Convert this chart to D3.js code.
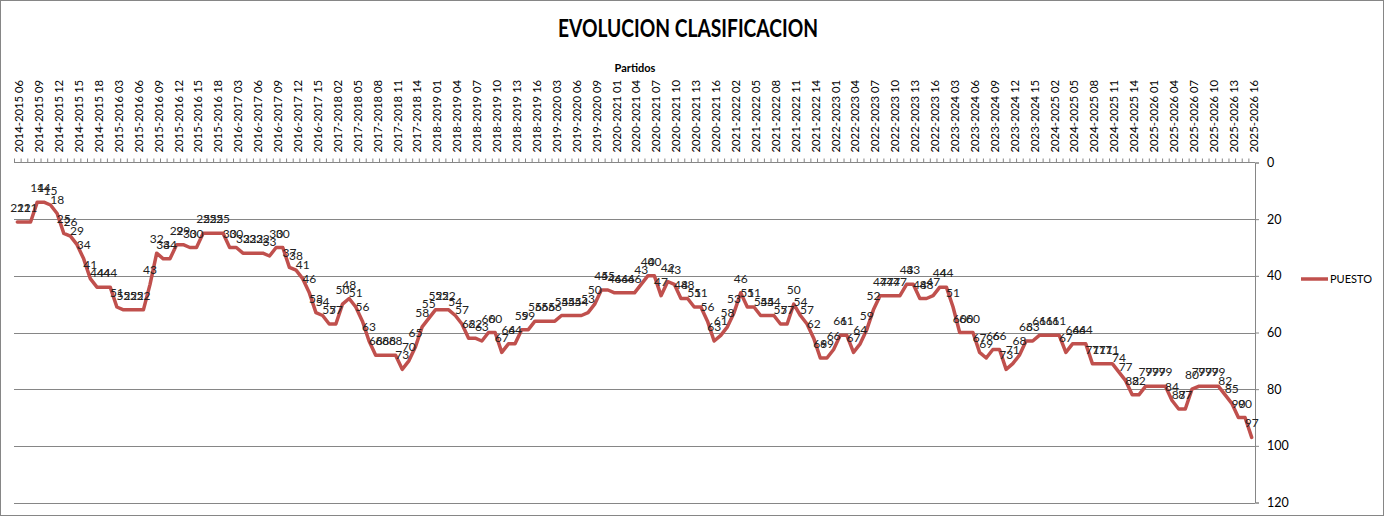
<!DOCTYPE html>
<html>
<head>
<meta charset="utf-8">
<script src="https://cdn.jsdelivr.net/npm/d3@7"></script>
<style>
  body { margin: 0; background: #fff; }
  svg { display: block; font-family: Lato, 'Open Sans', sans-serif; }
</style>
</head>
<body>
<svg id="chart" width="1388" height="518"></svg>
<script>
// Jornadas por temporada, tal como salen en la hoja
const categories = [
  '2014-2015 06', '2014-2015 07', '2014-2015 08', '2014-2015 09', '2014-2015 10', '2014-2015 11', '2014-2015 12',
  '2014-2015 13', '2014-2015 14', '2014-2015 15', '2014-2015 16', '2014-2015 17', '2014-2015 18',
  '2015-2016 01', '2015-2016 02', '2015-2016 03', '2015-2016 04', '2015-2016 05', '2015-2016 06', '2015-2016 07',
  '2015-2016 08', '2015-2016 09', '2015-2016 10', '2015-2016 11', '2015-2016 12', '2015-2016 13', '2015-2016 14',
  '2015-2016 15', '2015-2016 16', '2015-2016 17', '2015-2016 18',
  '2016-2017 01', '2016-2017 02', '2016-2017 03', '2016-2017 04', '2016-2017 05', '2016-2017 06', '2016-2017 07',
  '2016-2017 08', '2016-2017 09', '2016-2017 10', '2016-2017 11', '2016-2017 12', '2016-2017 13', '2016-2017 14',
  '2016-2017 15', '2016-2017 16',
  '2017-2018 01', '2017-2018 02', '2017-2018 03', '2017-2018 04', '2017-2018 05', '2017-2018 06', '2017-2018 07',
  '2017-2018 08', '2017-2018 09', '2017-2018 10', '2017-2018 11', '2017-2018 12', '2017-2018 13', '2017-2018 14',
  '2017-2018 15', '2017-2018 16',
  '2018-2019 01', '2018-2019 02', '2018-2019 03', '2018-2019 04', '2018-2019 05', '2018-2019 06', '2018-2019 07',
  '2018-2019 08', '2018-2019 09', '2018-2019 10', '2018-2019 11', '2018-2019 12', '2018-2019 13', '2018-2019 14',
  '2018-2019 15', '2018-2019 16',
  '2019-2020 01', '2019-2020 02', '2019-2020 03', '2019-2020 04', '2019-2020 05', '2019-2020 06', '2019-2020 07',
  '2019-2020 08', '2019-2020 09', '2019-2020 10', '2019-2020 11',
  '2020-2021 01', '2020-2021 02', '2020-2021 03', '2020-2021 04', '2020-2021 05', '2020-2021 06', '2020-2021 07',
  '2020-2021 08', '2020-2021 09', '2020-2021 10', '2020-2021 11', '2020-2021 12', '2020-2021 13', '2020-2021 14',
  '2020-2021 15', '2020-2021 16', '2020-2021 17',
  '2021-2022 01', '2021-2022 02', '2021-2022 03', '2021-2022 04', '2021-2022 05', '2021-2022 06', '2021-2022 07',
  '2021-2022 08', '2021-2022 09', '2021-2022 10', '2021-2022 11', '2021-2022 12', '2021-2022 13', '2021-2022 14',
  '2021-2022 15', '2021-2022 16',
  '2022-2023 01', '2022-2023 02', '2022-2023 03', '2022-2023 04', '2022-2023 05', '2022-2023 06', '2022-2023 07',
  '2022-2023 08', '2022-2023 09', '2022-2023 10', '2022-2023 11', '2022-2023 12', '2022-2023 13', '2022-2023 14',
  '2022-2023 15', '2022-2023 16',
  '2023-2024 01', '2023-2024 02', '2023-2024 03', '2023-2024 04', '2023-2024 05', '2023-2024 06', '2023-2024 07',
  '2023-2024 08', '2023-2024 09', '2023-2024 10', '2023-2024 11', '2023-2024 12', '2023-2024 13', '2023-2024 14',
  '2023-2024 15', '2023-2024 16',
  '2024-2025 01', '2024-2025 02', '2024-2025 03', '2024-2025 04', '2024-2025 05', '2024-2025 06', '2024-2025 07',
  '2024-2025 08', '2024-2025 09', '2024-2025 10', '2024-2025 11', '2024-2025 12', '2024-2025 13', '2024-2025 14',
  '2024-2025 15', '2024-2025 16',
  '2025-2026 01', '2025-2026 02', '2025-2026 03', '2025-2026 04', '2025-2026 05', '2025-2026 06', '2025-2026 07',
  '2025-2026 08', '2025-2026 09', '2025-2026 10', '2025-2026 11', '2025-2026 12', '2025-2026 13', '2025-2026 14',
  '2025-2026 15', '2025-2026 16',
];

// PUESTO, una cifra por jornada
const puesto = [
  21, 21, 21, 14, 14, 15, 18, 25, 26, 29, 34, 41, 44, 44, 44, 51, 52, 52, 52, 52,
  43, 32, 34, 34, 29, 29, 30, 30, 25, 25, 25, 25, 30, 30, 32, 32, 32, 32, 33, 30,
  30, 37, 38, 41, 46, 53, 54, 57, 57, 50, 48, 51, 56, 63, 68, 68, 68, 68, 73, 70,
  65, 58, 55, 52, 52, 52, 54, 57, 62, 62, 63, 60, 60, 67, 64, 64, 59, 59, 56, 56,
  56, 56, 54, 54, 54, 54, 53, 50, 45, 45, 46, 46, 46, 46, 43, 40, 40, 47, 42, 43,
  48, 48, 51, 51, 56, 63, 61, 58, 53, 46, 51, 51, 54, 54, 54, 57, 57, 50, 54, 57,
  62, 69, 69, 66, 61, 61, 67, 64, 59, 52, 47, 47, 47, 47, 43, 43, 48, 48, 47, 44,
  44, 51, 60, 60, 60, 67, 69, 66, 66, 73, 71, 68, 63, 63, 61, 61, 61, 61, 67, 64,
  64, 64, 71, 71, 71, 71, 74, 77, 82, 82, 79, 79, 79, 79, 84, 87, 87, 80, 79, 79,
  79, 79, 82, 85, 90, 90, 97,
];

const yTicks = [0, 20, 40, 60, 80, 100, 120];
const labelEvery = 3;

const RED = '#c0504d';
const GRID = '#868686';
const TEXT = '#000';

const PLOT = { left: 14, right: 1255, top: 162.5, bottom: 502.5 };

const svg = d3.select('#chart');

// marco del grafico
svg.append('rect')
  .attr('x', 0.5).attr('y', 0.5)
  .attr('width', 1383).attr('height', 515)
  .attr('fill', '#fff')
  .attr('stroke', GRID);

const xBand = d3.scaleBand()
  .domain(categories)
  .range([PLOT.left, PLOT.right]);
const cx = c => xBand(c) + xBand.bandwidth() / 2;

const y = d3.scaleLinear()
  .domain([0, 120])
  .range([PLOT.top, PLOT.bottom]);

// lineas de division
svg.append('g')
  .selectAll('line')
  .data(yTicks.filter(d => d > 0))
  .enter()
  .append('line')
  .attr('x1', PLOT.left).attr('x2', PLOT.right)
  .attr('y1', d => Math.round(y(d)) + 0.5).attr('y2', d => Math.round(y(d)) + 0.5)
  .attr('stroke', GRID);

// eje de valores a la derecha (invertido)
const yAxis = svg.append('g')
  .attr('transform', `translate(${PLOT.right},0)`)
  .call(d3.axisRight(y).tickValues(yTicks).tickSize(4).tickPadding(8));
yAxis.select('.domain').attr('stroke', GRID);
yAxis.selectAll('.tick line').attr('stroke', GRID);
yAxis.selectAll('.tick text')
  .attr('fill', TEXT)
  .style('font-family', 'Lato, sans-serif')
  .style('font-size', '12.5px');

// eje de categorias arriba
svg.append('line')
  .attr('x1', PLOT.left).attr('x2', PLOT.right)
  .attr('y1', PLOT.top).attr('y2', PLOT.top)
  .attr('stroke', GRID);

svg.append('g')
  .selectAll('line')
  .data(categories)
  .enter()
  .append('line')
  .attr('x1', d => xBand(d) + 0.5).attr('x2', d => xBand(d) + 0.5)
  .attr('y1', PLOT.top).attr('y2', PLOT.top - 4)
  .attr('stroke', GRID);

const xAxis = svg.append('g')
  .attr('transform', `translate(0,${PLOT.top})`)
  .call(d3.axisTop(xBand)
    .tickValues(categories.filter((d, i) => i % labelEvery === 0))
    .tickSize(0)
    .tickPadding(0));
xAxis.select('.domain').remove();
xAxis.selectAll('.tick text')
  .attr('transform', 'rotate(-90)')
  .attr('x', 10)
  .attr('y', 2)
  .attr('dy', '0.35em')
  .attr('text-anchor', 'start')
  .attr('fill', TEXT)
  .style('font-family', 'Lato, sans-serif')
  .style('font-size', '11.3px');

// serie
const line = d3.line()
  .x((d, i) => cx(categories[i]))
  .y(d => y(d));

svg.append('path')
  .datum(puesto)
  .attr('fill', 'none')
  .attr('stroke', RED)
  .attr('stroke-width', 3.5)
  .attr('stroke-linejoin', 'round')
  .attr('stroke-linecap', 'round')
  .attr('d', line);

// etiquetas de datos
svg.append('g')
  .selectAll('text')
  .data(puesto)
  .enter()
  .append('text')
  .attr('x', (d, i) => cx(categories[i]))
  .attr('y', d => y(d) - 10)
  .attr('text-anchor', 'middle')
  .attr('fill', '#222')
  .style('font-size', '12px')
  .text(d => d);

// titulos
svg.append('text')
  .attr('x', 688).attr('y', 36.5)
  .attr('text-anchor', 'middle')
  .attr('textLength', 260)
  .attr('lengthAdjust', 'spacingAndGlyphs')
  .style('font-size', '25px')
  .style('font-weight', 'bold')
  .text('EVOLUCION CLASIFICACION');

svg.append('text')
  .attr('x', 635).attr('y', 71.5)
  .attr('text-anchor', 'middle')
  .style('font-size', '11px')
  .style('font-weight', 'bold')
  .text('Partidos');

// leyenda
const legend = svg.append('g').attr('transform', 'translate(1301,279)');
legend.append('line')
  .attr('x1', 0).attr('x2', 27)
  .attr('stroke', RED)
  .attr('stroke-width', 3.5);
legend.append('text')
  .attr('x', 29).attr('y', 4)
  .style('font-size', '11px')
  .text('PUESTO');
</script>
</body>
</html>
